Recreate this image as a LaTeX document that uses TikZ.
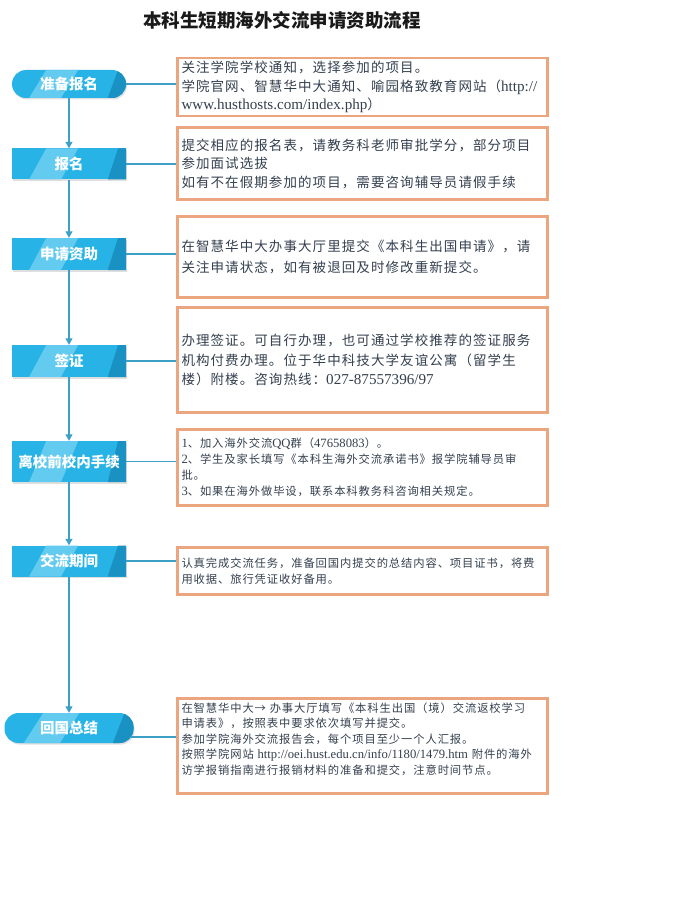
\documentclass[tikz,border=0pt]{standalone}
\usepackage{fontspec}
\newfontfamily\cjk[LetterSpace=8]{Noto Sans CJK SC}
\newfontfamily\cjktitle{Noto Sans CJK SC}
\newfontfamily\lat[Scale=1.12]{Liberation Serif}
\usetikzlibrary{arrows.meta,calc,shadows}

\definecolor{stepblue}{HTML}{27B3E6}
\definecolor{steplight}{HTML}{64CBF0}
\definecolor{stepdark}{HTML}{1A91C3}
\definecolor{flowline}{HTML}{3E9FC7}
\definecolor{boxedge}{HTML}{EBA57F}
\definecolor{boxtext}{HTML}{34404F}

% Streifen in den blauen Schritten
\newcommand\stepstripes{%
  \fill[steplight,sharp corners] let \p1=(path picture bounding box.south west),
      \p2=(path picture bounding box.north east), \n1={\x2-\x1} in
    ({\x1+0.15*\n1},\y1) -- ({\x1+0.30*\n1},\y2) -- ({\x1+0.58*\n1},\y2) -- ({\x1+0.43*\n1},\y1) -- cycle;
  \fill[stepdark,sharp corners] let \p1=(path picture bounding box.south west),
      \p2=(path picture bounding box.north east), \n1={\x2-\x1} in
    ({\x1+0.84*\n1},\y1) -- ({\x1+0.93*\n1},\y2) -- (\x2,\y2) -- (\x2,\y1) -- cycle;
}

\tikzset{
  stepbox/.style={rectangle, minimum width=114pt, minimum height=32pt, inner sep=0pt,
    fill=stepblue, text=white, font=\cjktitle\bfseries\fontsize{14.5}{16}\selectfont,
    drop shadow={opacity=0.25, shadow xshift=1pt, shadow yshift=-1.5pt},
    path picture={\stepstripes}},
  steppill/.style={stepbox, rounded corners=14pt},
  infobox/.style={draw=boxedge, line width=2.8pt, fill=white, minimum width=370pt,
    text width=362pt, inner xsep=4pt, inner ysep=0pt, align=left, text=boxtext,
    drop shadow={opacity=0.12, shadow xshift=1pt, shadow yshift=-1pt}},
  flow/.style={draw=flowline, line width=1.1pt},
}

\begin{document}
\begin{tikzpicture}[x=1pt,y=-1pt]
    \useasboundingbox (0,0) rectangle (684,912);

    % Titel
    \node[font=\cjktitle\bfseries\fontsize{18.5}{20}\selectfont, text=black!90] (title) at (282,20) {本科生短期海外交流申请资助流程};

    % Schritte links
    \node[steppill, minimum height=28pt] (prep) at (69,84) {准备报名};
    \node[stepbox, minimum height=31pt] (signup) at (69,164) {报名};
    \node[stepbox] (fund) at (69,254) {申请资助};
    \node[stepbox] (visa) at (69,361) {签证};
    \node[stepbox, minimum height=41pt] (leave) at (69,461.5) {离校前校内手续};
    \node[stepbox, minimum height=31pt] (during) at (69,561) {交流期间};
    \node[steppill, minimum width=129pt, minimum height=30pt] (back) at (69,728) {回国总结};

    % Erklaerungen rechts
    \node[infobox, minimum height=58pt, font=\cjk\fontsize{13.5}{18.5}\selectfont] (info1) at (362.5,87) {关注学院学校通知，选择参加的项目。\\
        学院官网、智慧华中大通知、喻园格致教育网站（{\lat http://}\\
        {\lat www.husthosts.com/index.php}）};
    \node[infobox, minimum height=72pt, font=\cjk\fontsize{13.5}{18.5}\selectfont] (info2) at (362.5,163.5) {提交相应的报名表，请教务科老师审批学分，部分项目\\
        参加面试选拔\\
        如有不在假期参加的项目，需要咨询辅导员请假手续};
    \node[infobox, minimum height=81pt, font=\cjk\fontsize{13.5}{21}\selectfont] (info3) at (362.5,257) {在智慧华中大办事大厅里提交《本科生出国申请》，请\\
        关注申请状态，如有被退回及时修改重新提交。};
    \node[infobox, minimum height=105pt, font=\cjk\fontsize{13.5}{19.5}\selectfont] (info4) at (362.5,360) {办理签证。可自行办理，也可通过学校推荐的签证服务\\
        机构付费办理。位于华中科技大学友谊公寓（留学生\\
        楼）附楼。咨询热线：{\lat 027-87557396/97}};
    \node[infobox, minimum height=76pt, font=\cjk\fontsize{11.3}{16}\selectfont] (info5) at (362.5,467.5) {{\lat 1}、加入海外交流{\lat QQ}群（{\lat 47658083}）。\\
        {\lat 2}、学生及家长填写《本科生海外交流承诺书》报学院辅导员审\\
        批。\\
        {\lat 3}、如果在海外做毕设，联系本科教务科咨询相关规定。};
    \node[infobox, minimum height=47pt, font=\cjk\fontsize{11.3}{16}\selectfont] (info6) at (362.5,571) {认真完成交流任务，准备回国内提交的总结内容、项目证书，将费\\
        用收据、旅行凭证收好备用。};
    \node[infobox, minimum height=95pt, font=\cjk\fontsize{11.3}{15.5}\selectfont] (info7) at (362.5,746) {在智慧华中大→ 办事大厅填写《本科生出国（境）交流返校学习\\
        申请表》，按照表中要求依次填写并提交。\\
        参加学院海外交流报告会，每个项目至少一个人汇报。\\
        按照学院网站 {\lat http://oei.hust.edu.cn/info/1180/1479.htm} 附件的海外\\
        访学报销指南进行报销材料的准备和提交，注意时间节点。\\[-5pt]
        \strut};

    % Pfeile nach unten
    \foreach \a/\b in {prep/signup,signup/fund,fund/visa,visa/leave,leave/during,during/back}
        \draw[flow,-{Triangle[length=6.5pt,width=7pt]}] (\a) -- (\b);

    % Verbindungen nach rechts
    \foreach \a/\b in {prep/info1,signup/info2,fund/info3,visa/info4,leave/info5,during/info6}
        \draw[flow] (\a.east) -- (\a.east -| \b.west);
    \coordinate (backout) at ([xshift=-3pt,yshift=-9pt]back.east);
    \draw[flow] (backout) -- (backout -| info7.west);
\end{tikzpicture}
\end{document}
